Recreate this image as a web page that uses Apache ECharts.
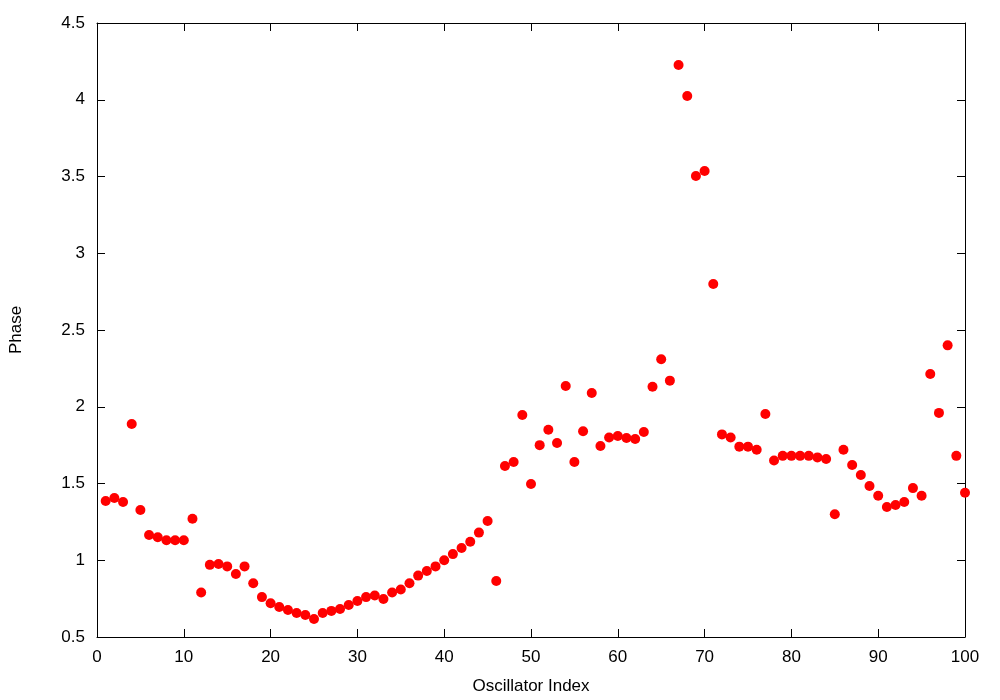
<!DOCTYPE html>
<html><head><meta charset="utf-8">
<script src="https://cdn.jsdelivr.net/npm/echarts@6/dist/echarts.min.js"></script>
<style>html,body{margin:0;padding:0;background:#fff}#c{width:1000px;height:700px}</style>
</head><body><div id="c"></div>
<script>
const oscillatorIndex = Array.from({length:100},(_,i)=>i+1);
const phase = [1.386,1.406,1.38,1.888,1.327,1.165,1.15,1.13,1.13,1.13,
1.27,0.79,0.97,0.975,0.96,0.91,0.96,0.85,0.76,0.72,
0.695,0.676,0.656,0.643,0.617,0.656,0.67,0.682,0.708,0.735,
0.76,0.77,0.747,0.79,0.81,0.85,0.90,0.93,0.96,1.0,
1.04,1.08,1.12,1.18,1.256,0.865,1.614,1.64,1.946,1.497,
1.75,1.85,1.764,2.135,1.64,1.84,2.09,1.744,1.80,1.81,
1.796,1.79,1.836,2.13,2.31,2.17,4.226,4.024,3.503,3.536,
2.80,1.82,1.80,1.74,1.74,1.72,1.953,1.65,1.68,1.68,
1.68,1.68,1.67,1.66,1.30,1.72,1.62,1.555,1.484,1.42,
1.347,1.36,1.38,1.47,1.42,2.213,1.96,2.40,1.68,1.44];
const xTitle = 'Oscillator Index';
const yTitle = 'Phase';
const font = 'Liberation Sans';
const chart = echarts.init(document.getElementById('c'));
const baseAxis = {
  axisLine:{show:true,onZero:false,lineStyle:{color:'#000',width:1}},
  axisTick:{show:true,inside:true,length:8,lineStyle:{color:'#000'}},
  splitLine:{show:false}
};
chart.setOption({
  animation:false,
  backgroundColor:'#fff',
  grid:{left:96,right:35,top:23,bottom:63},
  xAxis:[
    Object.assign({},baseAxis,{type:'value',min:0,max:100,interval:10,position:'bottom',
      name:xTitle,nameLocation:'middle',nameGap:41,nameTextStyle:{fontFamily:font,fontSize:17,color:'#000'},
      axisLabel:{fontFamily:font,fontSize:17,color:'#000',margin:12}}),
    Object.assign({},baseAxis,{type:'value',min:0,max:100,interval:10,position:'top',axisLabel:{show:false}})
  ],
  yAxis:[
    Object.assign({},baseAxis,{type:'value',min:0.5,max:4.5,interval:0.5,position:'left',
      name:yTitle,nameLocation:'middle',nameGap:72,nameTextStyle:{fontFamily:font,fontSize:17,color:'#000'},
      axisLabel:{fontFamily:font,fontSize:17,color:'#000',margin:12}}),
    Object.assign({},baseAxis,{type:'value',min:0.5,max:4.5,interval:0.5,position:'right',axisLabel:{show:false}})
  ],
  series:[{
    type:'scatter',
    data:oscillatorIndex.map((x,i)=>[x,phase[i]]),
    symbol:'circle',symbolSize:10,
    itemStyle:{color:'#ff0000',opacity:1}
  }]
});
</script></body></html>
